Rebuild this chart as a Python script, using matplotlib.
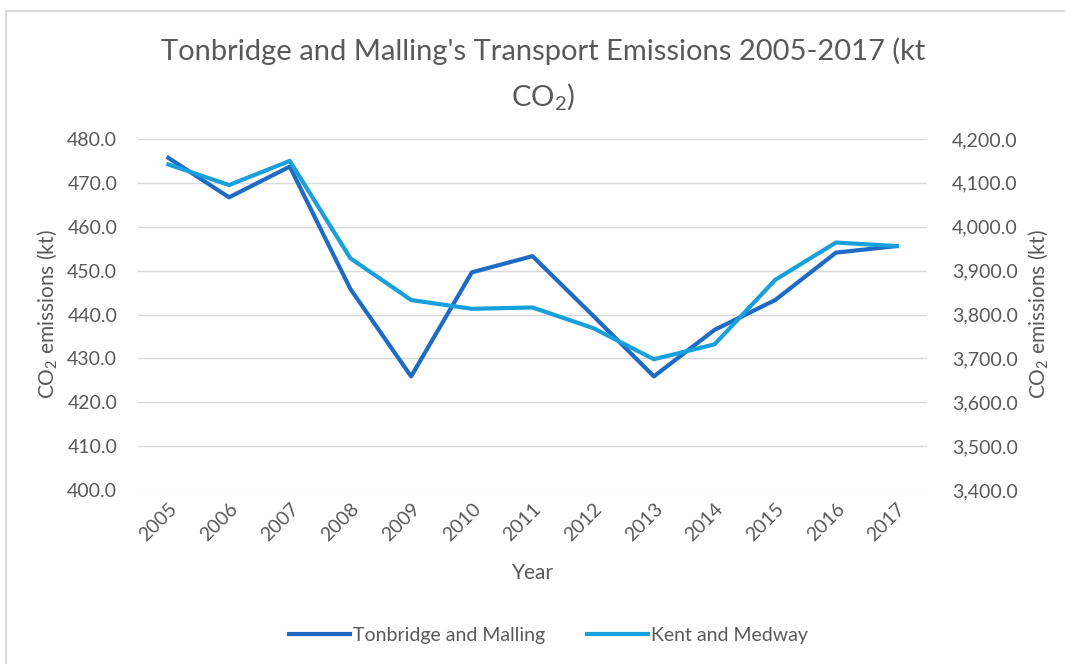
import matplotlib
matplotlib.use('Agg')
import matplotlib.pyplot as plt
from matplotlib.ticker import FuncFormatter, MultipleLocator
from matplotlib.patches import Rectangle

# Data
years = ['2005', '2006', '2007', '2008', '2009', '2010', '2011',
         '2012', '2013', '2014', '2015', '2016', '2017']
tonbridge = [475.7, 466.7, 473.7, 445.8, 425.9, 449.6, 453.3,
             439.7, 425.9, 436.5, 443.3, 454.1, 455.6]
kent = [4142, 4095, 4150, 3928, 3833, 3813, 3816,
        3769, 3698, 3732, 3879, 3964, 3956]

plt.rcParams['font.family'] = ['Lato', 'DejaVu Sans']
plt.rcParams['mathtext.fontset'] = 'custom'
plt.rcParams['mathtext.rm'] = 'Lato'
plt.rcParams['mathtext.it'] = 'Lato'

grey = '#595959'
dark = '#1f6bc4'
light = '#17a0db'

fig = plt.figure(figsize=(10.65, 6.64), dpi=100)
ax = fig.add_axes([0.1296, 0.262, 0.7408, 0.5287])
ax2 = ax.twinx()

x = range(len(years))
l1, = ax.plot(x, tonbridge, color=dark, lw=3, label='Tonbridge and Malling', zorder=3)
l2, = ax2.plot(x, kent, color=light, lw=3, label='Kent and Medway', zorder=3)

ax.set_xlim(-0.5, len(years) - 0.5)
ax.set_ylim(400, 480)
ax2.set_ylim(3400, 4200)
ax.yaxis.set_major_locator(MultipleLocator(10))
ax2.yaxis.set_major_locator(MultipleLocator(100))
ax.yaxis.set_major_formatter(FuncFormatter(lambda v, p: f'{v:.1f}'))
ax2.yaxis.set_major_formatter(FuncFormatter(lambda v, p: f'{v:,.1f}'))

ax.set_xticks(list(x))
ax.set_xticklabels(years, rotation=45, ha='right', rotation_mode='anchor')
ax.grid(axis='y', color='#d9d9d9', lw=1)
ax.set_axisbelow(True)

for a in (ax, ax2):
    for s in a.spines.values():
        s.set_visible(False)
    a.tick_params(length=0, colors=grey, labelsize=14)
ax.tick_params(axis='y', pad=15)
ax2.tick_params(axis='y', pad=18)
ax.tick_params(axis='x', pad=7)

ax.set_ylabel('CO$_2$ emissions (kt)', color=grey, fontsize=15, labelpad=6)
ax2.set_ylabel('CO$_2$ emissions (kt)', color=grey, fontsize=15, labelpad=6)
ax.set_xlabel('Year', color=grey, fontsize=15, labelpad=14)

fig.text(0.51, 0.923, "Tonbridge and Malling's Transport Emissions 2005-2017 (kt",
         ha='center', va='center', fontsize=21, color=grey)
fig.text(0.51, 0.855, 'CO$_2$)', ha='center', va='center', fontsize=21, color=grey)

fig.legend(handles=[l1, l2], loc='center', bbox_to_anchor=(0.515, 0.043), ncol=2,
           frameon=False, fontsize=14, handlelength=3.1, handletextpad=0.15,
           columnspacing=2.2, labelcolor=grey)

# chart border
fig.patches.append(Rectangle((6 / 1065, -0.1), 1.2, 1 - 11 / 664 + 0.1,
                             transform=fig.transFigure, fill=False,
                             edgecolor='#d9d9d9', lw=1.5))

fig.savefig('out.png', dpi=100)
